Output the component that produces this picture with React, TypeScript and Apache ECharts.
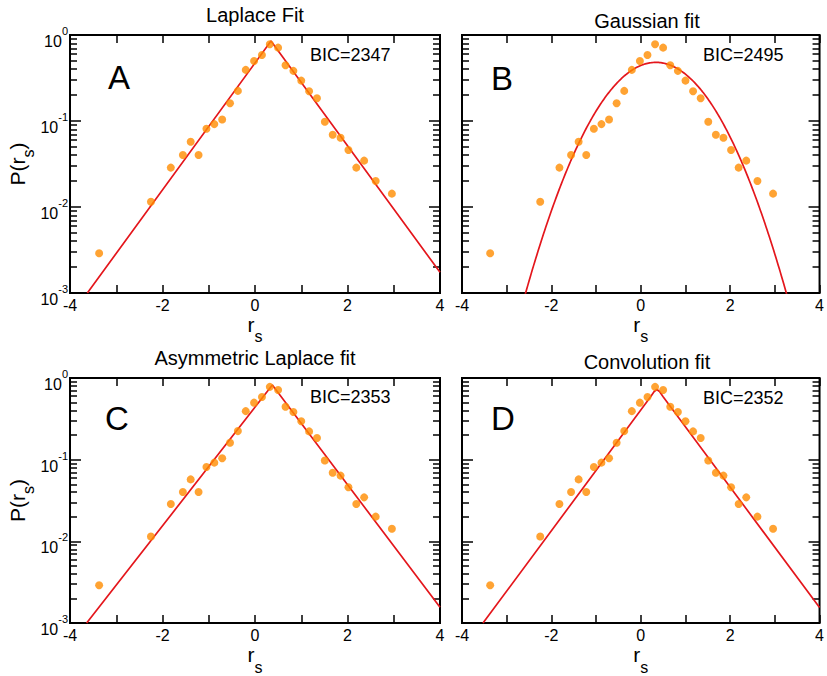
import React, { useEffect, useRef } from "react";
import * as echarts from "echarts";

// Measured distribution of r_s (same sample in every panel)
const rsValues = [
  -3.37, -2.25, -1.82, -1.56, -1.39, -1.22, -1.05, -0.88, -0.71, -0.54, -0.37, -0.2, -0.02, 0.15, 0.32,
  0.5, 0.66, 0.83, 1.0, 1.17, 1.34, 1.51, 1.68, 1.85, 2.02, 2.19, 2.36, 2.61, 2.96,
];
const probValues = [
  0.0029, 0.0115, 0.0287, 0.0402, 0.0574, 0.0402, 0.0813, 0.092, 0.104, 0.161, 0.224, 0.393, 0.499, 0.586,
  0.779, 0.713, 0.445, 0.383, 0.295, 0.222, 0.184, 0.098, 0.0692, 0.0639, 0.046, 0.0287, 0.0346, 0.0201,
  0.0143,
];

// Fitted curves
const laplaceX = [-3.625, 0.346, 4];
const laplaceY = [0.001, 0.851, 0.00174];
const gaussMean = 0.34;
const gaussSd = 0.83;
const asymLaplaceX = [-3.64, 0.375, 4];
const asymLaplaceY = [0.001, 0.822, 0.00156];
const convolutionX = [-3.53, 0.22, 0.3, 0.36, 0.42, 0.5, 4];
const convolutionY = [0.001, 0.589, 0.684, 0.724, 0.684, 0.589, 0.00155];

const panelTitles = ["Laplace Fit", "Gaussian fit", "Asymmetric Laplace fit", "Convolution fit"];
const panelLetters = ["A", "B", "C", "D"];
const bicValues = [2347, 2495, 2353, 2352];
const yDecades = [0.001, 0.01, 0.1, 1];
const decadeExponents = ["-3", "-2", "-1", "0"];

const FONT = '"Liberation Sans", Arial, Helvetica, sans-serif';
const DOT = "#ff8c00";
const FIT = "#e4161c";
const INK = "#000";

const W = 370;
const H = 258;
const panels = [
  { left: 70, top: 35, title: [255, 15], bic: [310, 55], letter: [119, 77], yLabels: true },
  { left: 462, top: 35, title: [647, 21], bic: [703, 55], letter: [502, 78], yLabels: false },
  { left: 70, top: 378, title: [255, 358], bic: [310, 397], letter: [117, 418], yLabels: true },
  { left: 462, top: 378, title: [647, 362], bic: [703, 398], letter: [503, 418], yLabels: false },
];

const zip = (xs: number[], ys: number[]) => xs.map((x, i) => [x, ys[i]]);

function gaussianCurve(): number[][] {
  const pts: number[][] = [];
  const norm = 1 / (gaussSd * Math.sqrt(2 * Math.PI));
  for (let x = -2.7; x <= 3.4001; x += 0.025) {
    const z = (x - gaussMean) / gaussSd;
    pts.push([x, norm * Math.exp(-0.5 * z * z)]);
  }
  return pts;
}

const minorTicks: number[] = [];
for (let d = 0; d < 3; d++) {
  for (let k = 2; k <= 9; k++) minorTicks.push(k * yDecades[d]);
}

export default function App() {
  const ref = useRef<HTMLDivElement>(null);

  useEffect(() => {
    if (!ref.current) return;
    const chart = echarts.init(ref.current, null, { renderer: "svg" });

    const fits = [
      zip(laplaceX, laplaceY),
      gaussianCurve(),
      zip(asymLaplaceX, asymLaplaceY),
      zip(convolutionX, convolutionY),
    ];
    const scatterData = zip(rsValues, probValues);

    const grid: any[] = [];
    const xAxis: any[] = [];
    const yAxis: any[] = [];
    const series: any[] = [];
    const graphic: any[] = [];

    panels.forEach((p, i) => {
      grid.push({
        left: p.left,
        top: p.top,
        width: W,
        height: H,
        show: true,
        borderColor: INK,
        borderWidth: 2,
        containLabel: false,
      });

      ["bottom", "top"].forEach((pos) => {
        xAxis.push({
          type: "value",
          gridIndex: i,
          position: pos,
          min: -4,
          max: 4,
          interval: 1,
          axisLine: { show: false, onZero: false },
          splitLine: { show: false },
          axisTick: { show: true, inside: true, length: 8, lineStyle: { color: INK, width: 1.5 } },
          axisLabel: {
            show: pos === "bottom",
            margin: 4,
            fontSize: 16,
            fontFamily: FONT,
            color: INK,
            formatter: (v: number) => (v % 2 === 0 ? String(v) : ""),
          },
          name: pos === "bottom" ? "{r|r}{s|s}" : "",
          nameLocation: "middle",
          nameGap: 12,
          nameTextStyle: {
            fontFamily: FONT,
            color: INK,
            rich: {
              r: { fontSize: 21, lineHeight: 21, verticalAlign: "top", fontFamily: FONT, color: INK },
              s: { fontSize: 16, lineHeight: 31, verticalAlign: "bottom", fontFamily: FONT, color: INK },
            },
          },
        });
      });

      ["left", "right"].forEach((pos) => {
        const labelled = pos === "left" && p.yLabels;
        // decade ticks and labels
        yAxis.push({
          type: "log",
          gridIndex: i,
          position: pos,
          min: 0.001,
          max: 1,
          axisLine: { show: false, onZero: false },
          splitLine: { show: false },
          axisTick: {
            show: true,
            inside: true,
            length: 11,
            lineStyle: { color: INK, width: 1.5 },
            customValues: yDecades,
          },
          axisLabel: {
            show: labelled,
            margin: 2,
            padding: [5, 0, 0, 0],
            formatter: (v: number) => {
              const idx = yDecades.findIndex((d) => Math.abs(d - v) / d < 1e-6);
              return idx >= 0 ? `{b|10}{s|${decadeExponents[idx]}}` : "";
            },
            rich: {
              b: { fontSize: 16, lineHeight: 16, verticalAlign: "bottom", fontFamily: FONT, color: INK },
              s: { fontSize: 11, lineHeight: 24, verticalAlign: "top", fontFamily: FONT, color: INK },
            },
          },
          name: labelled ? "{n|P(r}{s|s}{n|)}" : "",
          nameLocation: "middle",
          nameRotate: 90,
          nameGap: 16,
          nameTextStyle: {
            fontFamily: FONT,
            color: INK,
            rich: {
              n: { fontSize: 21, lineHeight: 21, verticalAlign: "top", fontFamily: FONT, color: INK },
              s: { fontSize: 16, lineHeight: 30, verticalAlign: "bottom", fontFamily: FONT, color: INK },
            },
          },
        });
        // intermediate ticks 2..9 within each decade
        yAxis.push({
          type: "log",
          gridIndex: i,
          position: pos,
          min: 0.001,
          max: 1,
          axisLine: { show: false, onZero: false },
          splitLine: { show: false },
          axisTick: {
            show: true,
            inside: true,
            length: 7,
            lineStyle: { color: INK, width: 1.5 },
            customValues: minorTicks,
          },
          axisLabel: { show: false },
        });
      });

      series.push({
        type: "line",
        xAxisIndex: 2 * i,
        yAxisIndex: 4 * i,
        data: fits[i],
        showSymbol: false,
        symbol: "none",
        clip: true,
        smooth: false,
        lineStyle: { color: FIT, width: 1.7 },
        z: 2,
      });
      series.push({
        type: "scatter",
        xAxisIndex: 2 * i,
        yAxisIndex: 4 * i,
        data: scatterData,
        symbol: "circle",
        symbolSize: 8,
        itemStyle: { color: DOT },
        z: 3,
      });

      graphic.push({
        type: "text",
        x: p.title[0],
        y: p.title[1],
        style: {
          text: panelTitles[i],
          fontSize: 20,
          fontFamily: FONT,
          fill: INK,
          textAlign: "center",
          textVerticalAlign: "middle",
        },
      });
      graphic.push({
        type: "text",
        x: p.bic[0],
        y: p.bic[1],
        style: {
          text: `BIC=${bicValues[i]}`,
          fontSize: 18,
          fontFamily: FONT,
          fill: INK,
          textAlign: "left",
          textVerticalAlign: "middle",
        },
      });
      graphic.push({
        type: "text",
        x: p.letter[0],
        y: p.letter[1],
        style: {
          text: panelLetters[i],
          fontSize: 33,
          fontFamily: FONT,
          fill: INK,
          textAlign: "center",
          textVerticalAlign: "middle",
        },
      });
    });

    chart.setOption({
      animation: false,
      backgroundColor: "#fff",
      grid,
      xAxis,
      yAxis,
      series,
      graphic,
    });

    return () => chart.dispose();
  }, []);

  return (
    <div
      ref={ref}
      style={{ position: "fixed", left: 0, top: 0, width: 827, height: 676, overflow: "hidden", background: "#fff" }}
    />
  );
}
